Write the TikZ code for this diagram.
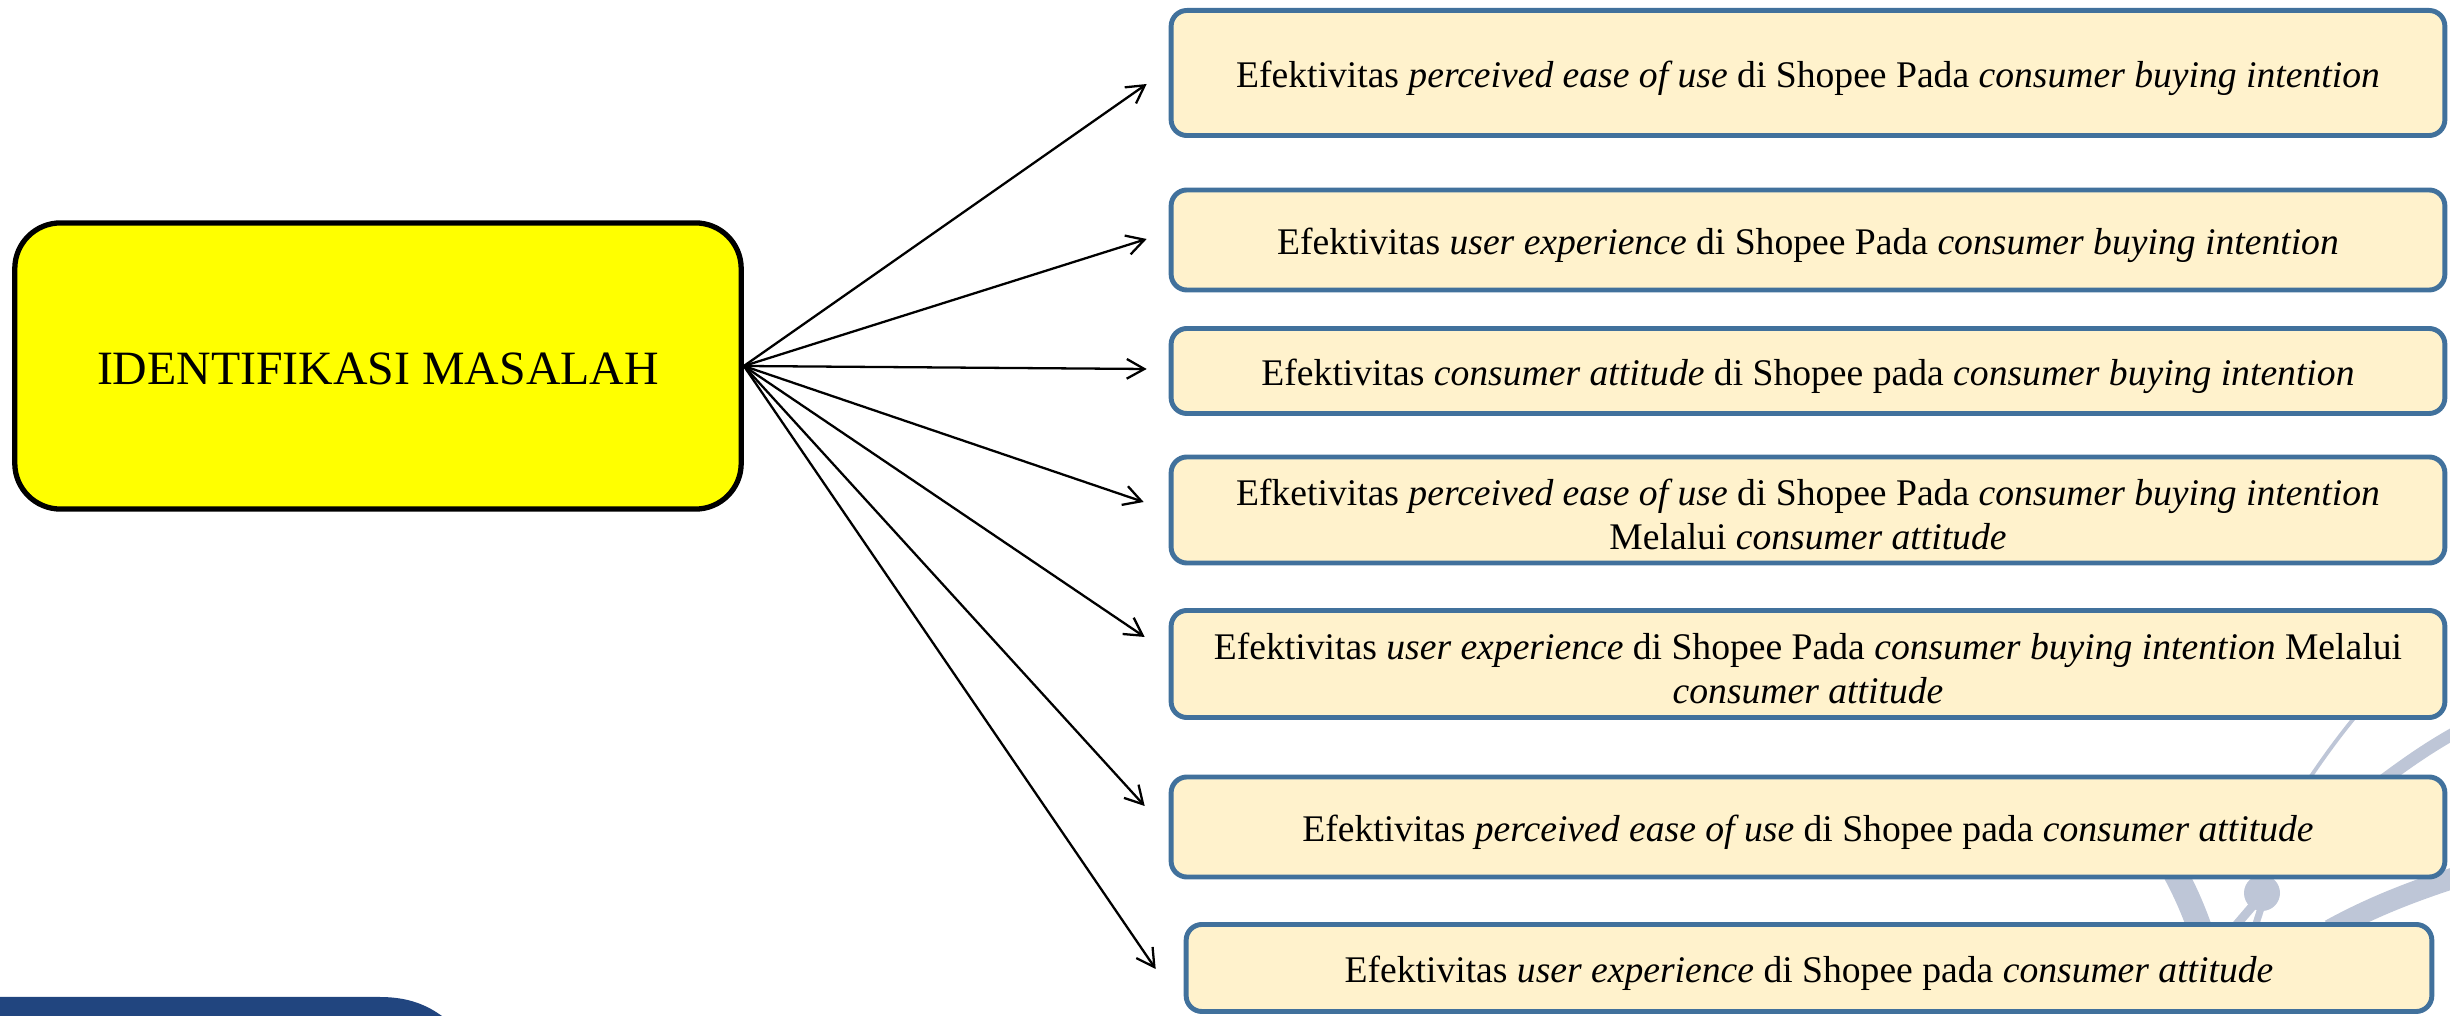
\documentclass[tikz,border=0pt]{standalone}
\usepackage{fontspec}
\setmainfont{Liberation Serif}
\usetikzlibrary{arrows.meta,calc}
\definecolor{boxfill}{HTML}{FFF2CC}
\definecolor{boxline}{HTML}{41719C}
\definecolor{wm}{HTML}{BEC6D7}
\definecolor{band}{HTML}{21457F}
\definecolor{ybox}{RGB}{255,255,0}
\newcommand\dnln[1]{\raisebox{-1.4pt}[\height][\depth]{#1}}
\begin{document}
\begin{tikzpicture}[x=0.01cm,y=-0.01cm,
  item/.style={draw=boxline, line width=1.4pt, fill=boxfill, rounded corners=4.5pt,
    align=center, font=\fontsize{10.7}{12.5}\selectfont, minimum width=12.73cm, inner sep=0pt},
  mainbox/.style={draw=black, line width=1.5pt, fill=ybox, rounded corners=13pt,
    minimum width=7.26cm, minimum height=2.86cm, font=\fontsize{13.6}{16}\selectfont},
  conn/.style={-{Straight Barb[length=5pt,width=5.6pt]}, line width=0.65pt},
  wmline/.style={draw=wm, line cap=round}]
\useasboundingbox (0,0) rectangle (2450,1016);
% background decorations
\fill[band] (0,997) -- (380,997) .. controls (410,997) and (428,1006) .. (442,1016) -- (0,1016) -- cycle;
\draw[wmline, line width=1.1pt] (2295,800) .. controls (2315,770) and (2335,740) .. (2365,705);
\draw[wmline, line width=3.5pt, line cap=butt] (2370,790) .. controls (2395,772) and (2420,752) .. (2460,730);
\draw[wmline, line width=7pt, line cap=butt] (2165,855) .. controls (2180,880) and (2192,905) .. (2202,935);
\fill[wm] (2262,893) circle (18);
\draw[wmline, line width=2.5pt] (2256,902) -- (2232,930);
\draw[wmline, line width=2pt] (2262,905) -- (2254,930);
\draw[wmline, line width=6pt, line cap=butt] (2330,930) .. controls (2370,908) and (2410,892) .. (2460,876);
% main node
\node[mainbox] (m) at (378,366) {\raisebox{-0.9pt}[\height][\depth]{IDENTIFIKASI MASALAH}};
% right boxes
\node[item, minimum height=1.25cm] (b1) at (1808,73)
  {\dnln{Efektivitas \textit{perceived ease of use} di Shopee Pada \textit{consumer buying intention}}};
\node[item, minimum height=1.00cm] (b2) at (1808,240)
  {\dnln{Efektivitas \textit{user experience} di Shopee Pada \textit{consumer buying intention}}};
\node[item, minimum height=0.85cm] (b3) at (1808,371)
  {\dnln{Efektivitas \textit{consumer attitude} di Shopee pada \textit{consumer buying intention}}};
\node[item, minimum height=1.06cm] (b4) at (1808,510)
  {\dnln{Efketivitas \textit{perceived ease of use} di Shopee Pada \textit{consumer buying intention}}\\
   \dnln{Melalui \textit{consumer attitude}}};
\node[item, minimum height=1.07cm] (b5) at (1808,664)
  {\dnln{Efektivitas \textit{user experience} di Shopee Pada \textit{consumer buying intention} Melalui}\\
   \dnln{\textit{consumer attitude}}};
\node[item, minimum height=1.00cm] (b6) at (1808,827)
  {\dnln{Efektivitas \textit{perceived ease of use} di Shopee pada \textit{consumer attitude}}};
\node[item, minimum height=0.87cm, minimum width=12.45cm] (b7) at (1809,968)
  {\dnln{Efektivitas \textit{user experience} di Shopee pada \textit{consumer attitude}}};
% arrow tips
\coordinate (t1) at ($(b1.west)+(-22,11)$);
\coordinate (t2) at ($(b2.west)+(-22,-1)$);
\coordinate (t3) at ($(b3.west)+(-22,-2)$);
\coordinate (t4) at ($(b4.west)+(-25,-8)$);
\coordinate (t5) at ($(b5.west)+(-24,-27)$);
\coordinate (t6) at ($(b6.west)+(-24,-21)$);
\coordinate (t7) at ($(b7.west)+(-28,1)$);
\foreach \t in {t1,t2,t3,t4,t5,t6,t7} \draw[conn] (m.east) -- (\t);
\end{tikzpicture}
\end{document}
